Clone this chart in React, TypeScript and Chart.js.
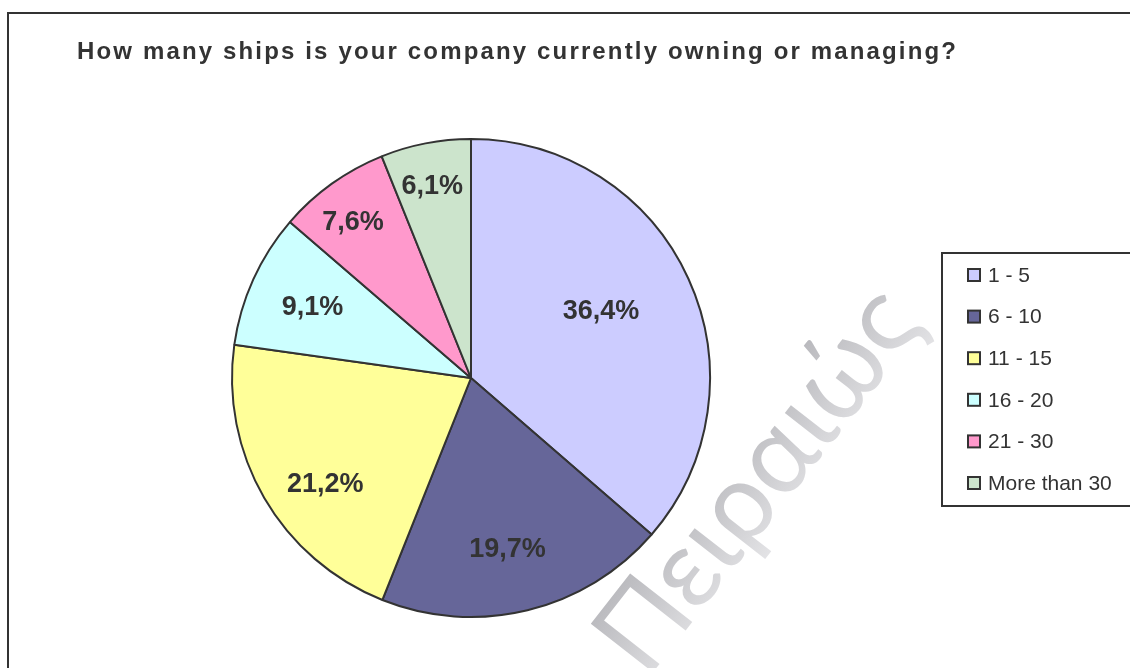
import React, { useEffect, useRef } from "react";
import { Chart, registerables } from "chart.js";

Chart.register(...registerables);

const TITLE = "How many ships is your company currently owning or managing?";
const categories = ["1 - 5", "6 - 10", "11 - 15", "16 - 20", "21 - 30", "More than 30"];
const shares = [36.4, 19.7, 21.2, 9.1, 7.6, 6.1];
const sliceColors = ["#CCCCFF", "#666699", "#FFFF99", "#CCFFFF", "#FF99CC", "#CCE4CC"];
const WATERMARK = "Πειραιώς";

// label placement: fraction of radius and angular nudge (degrees) from slice bisector
const labelRadius = [0.61, 0.735, 0.755, 0.725, 0.816, 0.816];
const labelAngleShift = [-2.4, 1.7, -6, -0.5, -1.6, -0.5];

const framePlugin = {
  id: "frame",
  beforeDraw(chart: any) {
    const ctx = chart.ctx;
    ctx.save();
    ctx.fillStyle = "#ffffff";
    ctx.fillRect(0, 0, chart.width, chart.height);
    ctx.strokeStyle = "#333333";
    ctx.lineWidth = 2;
    ctx.beginPath();
    ctx.moveTo(8, chart.height + 5);
    ctx.lineTo(8, 13);
    ctx.lineTo(chart.width + 5, 13);
    ctx.stroke();
    ctx.fillStyle = "#333333";
    ctx.font = "bold 24px 'Liberation Sans', Arial, sans-serif";
    (ctx as any).letterSpacing = "2.15px";
    ctx.textBaseline = "alphabetic";
    ctx.textAlign = "left";
    ctx.fillText(TITLE, 77, 59);
    ctx.restore();
  },
};

const labelsPlugin = {
  id: "pctLabels",
  afterDatasetsDraw(chart: any) {
    const ctx = chart.ctx;
    const meta = chart.getDatasetMeta(0);
    const data = chart.data.datasets[0].data as number[];
    ctx.save();
    ctx.fillStyle = "#333333";
    ctx.font = "bold 27px 'Liberation Sans', Arial, sans-serif";
    ctx.textAlign = "center";
    ctx.textBaseline = "middle";
    meta.data.forEach((arc: any, i: number) => {
      const { x, y, startAngle, endAngle, outerRadius } = arc.getProps(
        ["x", "y", "startAngle", "endAngle", "outerRadius"],
        true
      );
      const mid = (startAngle + endAngle) / 2 + (labelAngleShift[i] * Math.PI) / 180;
      const r = outerRadius * labelRadius[i];
      const txt = data[i].toFixed(1).replace(".", ",") + "%";
      ctx.fillText(txt, x + Math.cos(mid) * r, y + Math.sin(mid) * r);
    });
    ctx.restore();
  },
};

const watermarkPlugin = {
  id: "watermark",
  afterDraw(chart: any) {
    const ctx = chart.ctx;
    ctx.save();
    ctx.translate(758, 480);
    ctx.rotate((-52 * Math.PI) / 180);
    ctx.font = "normal 110px Lato, 'Open Sans', sans-serif";
    ctx.textAlign = "center";
    ctx.textBaseline = "middle";
    const g = ctx.createLinearGradient(0, -55, 0, 55);
    g.addColorStop(0, "rgba(170,170,175,0.85)");
    g.addColorStop(0.5, "rgba(195,195,199,0.85)");
    g.addColorStop(1, "rgba(222,222,225,0.85)");
    ctx.fillStyle = g;
    ctx.fillText(WATERMARK, 0, 0);
    ctx.restore();
  },
};

const legendPlugin = {
  id: "boxLegend",
  afterDraw(chart: any) {
    const ctx = chart.ctx;
    const labels = chart.data.labels as string[];
    const colors = chart.data.datasets[0].backgroundColor as string[];
    ctx.save();
    ctx.fillStyle = "#ffffff";
    ctx.fillRect(942, 253, 200, 253);
    ctx.strokeStyle = "#333333";
    ctx.lineWidth = 2;
    ctx.strokeRect(942, 253, 200, 253);
    ctx.font = "21px 'Liberation Sans', Arial, sans-serif";
    ctx.textBaseline = "middle";
    ctx.textAlign = "left";
    labels.forEach((lab, i) => {
      const cy = 275 + i * 41.6;
      ctx.fillStyle = colors[i];
      ctx.fillRect(968, cy - 6, 12, 12);
      ctx.strokeStyle = "#333333";
      ctx.lineWidth = 2;
      ctx.strokeRect(968, cy - 6, 12, 12);
      ctx.fillStyle = "#333333";
      ctx.fillText(lab, 988, cy + 1);
    });
    ctx.restore();
  },
};

export default function App() {
  const ref = useRef<HTMLCanvasElement | null>(null);
  useEffect(() => {
    if (!ref.current) return;
    const chart = new Chart(ref.current, {
      type: "pie",
      data: {
        labels: categories,
        datasets: [
          {
            data: shares,
            backgroundColor: sliceColors,
            borderColor: "#333333",
            borderWidth: 2,
          },
        ],
      },
      options: {
        animation: false,
        responsive: false,
        radius: 239,
        layout: { padding: { left: 232, right: 420, top: 139, bottom: 51 } },
        plugins: {
          legend: { display: false },
          tooltip: { enabled: false },
          title: { display: false },
        },
      } as any,
      plugins: [framePlugin, labelsPlugin, watermarkPlugin, legendPlugin],
    });
    return () => chart.destroy();
  }, []);
  return (
    <div style={{ position: "fixed", left: 0, top: 0, width: 1130, height: 668, background: "#fff" }}>
      <canvas ref={ref} width={1130} height={668} style={{ width: 1130, height: 668 }} />
    </div>
  );
}
